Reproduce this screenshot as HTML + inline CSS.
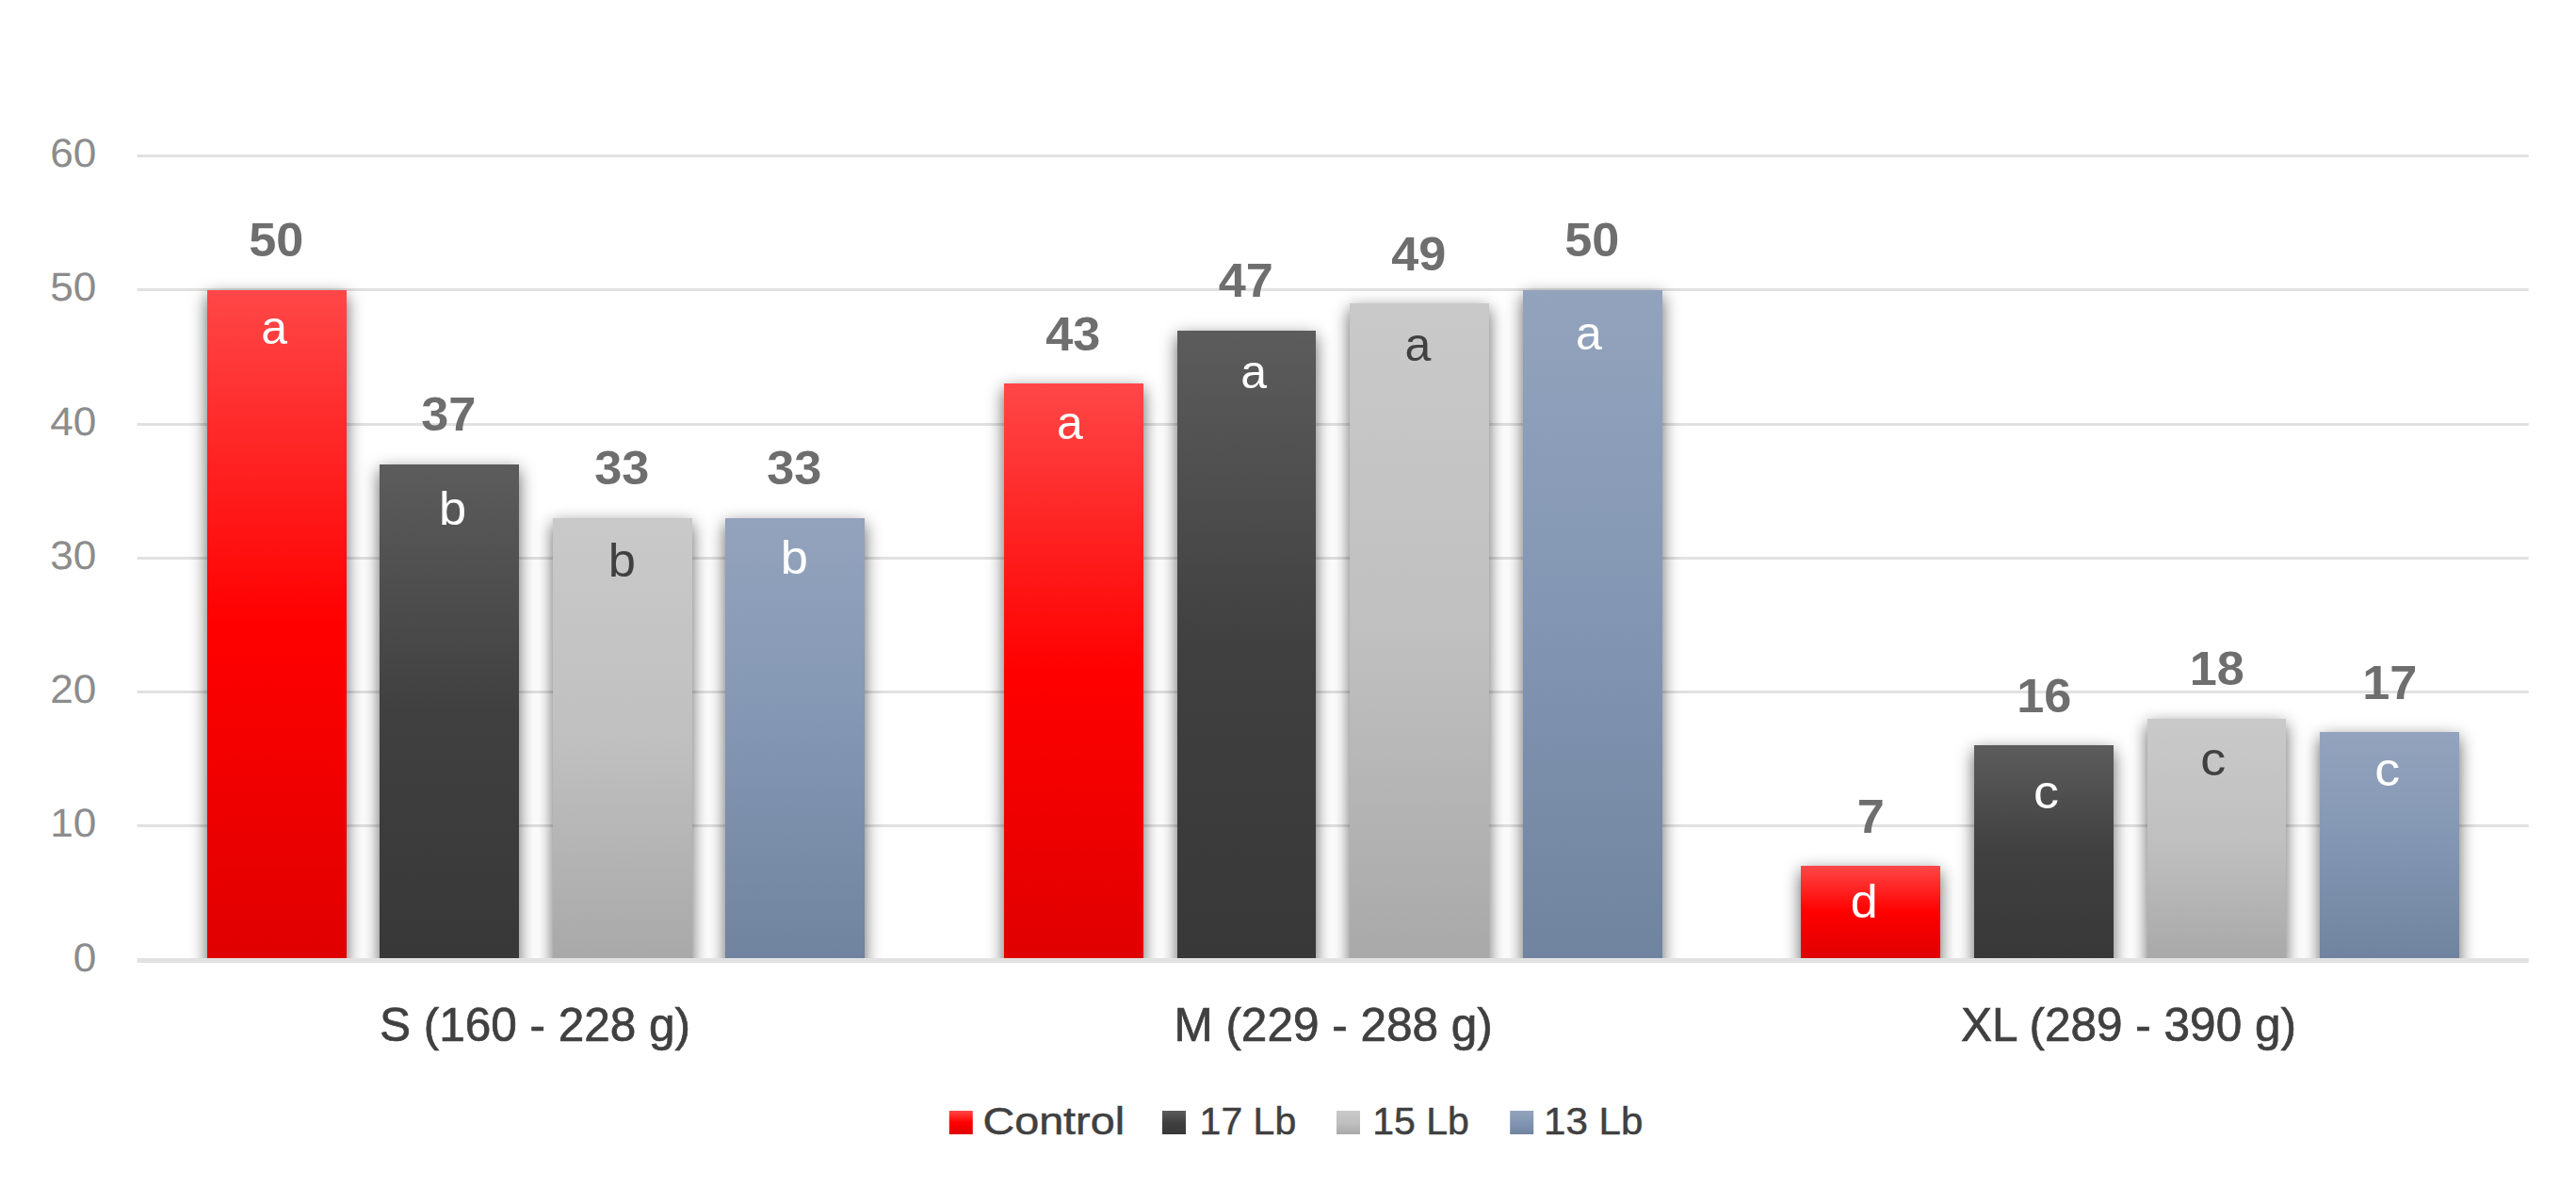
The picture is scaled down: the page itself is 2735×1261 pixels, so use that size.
<!DOCTYPE html>
<html lang="en">
<head>
<meta charset="utf-8">
<title>Chart</title>
<style>
html,body{margin:0;padding:0;background:#fff;}
body{width:2735px;height:1261px;overflow:hidden;}
svg{display:block;}
text{font-family:"Liberation Sans",Arial,sans-serif;}
.yl{font-size:42.5px;text-rendering:geometricPrecision;fill:#8c8c8c;text-anchor:end;}
.dl{font-size:50px;font-weight:bold;fill:#6e6e6e;text-anchor:middle;}
.lt{font-size:50px;}
.cl{font-size:49.5px;fill:#404040;text-anchor:middle;stroke:#404040;stroke-width:0.7px;}
.lg{font-size:41px;fill:#404040;stroke:#404040;stroke-width:0.5px;}
</style>
</head>
<body>
<svg width="2735" height="1261" viewBox="0 0 2735 1261">
<defs>
<linearGradient id="gR" x1="0" y1="0" x2="0" y2="1"><stop offset="0" stop-color="#ff4747"/><stop offset="0.5" stop-color="#ff0000"/><stop offset="1" stop-color="#e00000"/></linearGradient>
<linearGradient id="gD" x1="0" y1="0" x2="0" y2="1"><stop offset="0" stop-color="#5c5c5c"/><stop offset="0.5" stop-color="#404040"/><stop offset="1" stop-color="#383838"/></linearGradient>
<linearGradient id="gL" x1="0" y1="0" x2="0" y2="1"><stop offset="0" stop-color="#c9c9c9"/><stop offset="0.5" stop-color="#c0c0c0"/><stop offset="1" stop-color="#a9a9a9"/></linearGradient>
<linearGradient id="gB" x1="0" y1="0" x2="0" y2="1"><stop offset="0" stop-color="#93a3bd"/><stop offset="0.5" stop-color="#8296b3"/><stop offset="1" stop-color="#70839f"/></linearGradient>
<filter id="sh" x="-30%" y="-30%" width="160%" height="160%" color-interpolation-filters="sRGB"><feGaussianBlur stdDeviation="9"/></filter>
<clipPath id="cp"><rect x="0" y="0" width="2735" height="1017"/></clipPath>
</defs>
<rect width="2735" height="1261" fill="#fff"/>
<g fill="#e1e1e1">
<rect x="145.6" y="164" width="2539.1" height="3"/>
<rect x="145.6" y="306" width="2539.1" height="3"/>
<rect x="145.6" y="449" width="2539.1" height="3"/>
<rect x="145.6" y="591" width="2539.1" height="3"/>
<rect x="145.6" y="733" width="2539.1" height="3"/>
<rect x="145.6" y="875" width="2539.1" height="3"/>
</g>
<g clip-path="url(#cp)">
<g filter="url(#sh)" fill="#000" fill-opacity="0.62">
<rect x="220" y="314" width="148" height="749"/>
<rect x="403" y="499" width="148" height="564"/>
<rect x="587" y="556" width="148" height="507"/>
<rect x="770" y="556" width="148" height="507"/>
<rect x="1066" y="413" width="148" height="650"/>
<rect x="1250" y="357" width="147" height="706"/>
<rect x="1433" y="328" width="148" height="735"/>
<rect x="1617" y="314" width="148" height="749"/>
<rect x="1912" y="925" width="148" height="138"/>
<rect x="2096" y="797" width="148" height="266"/>
<rect x="2280" y="769" width="147" height="294"/>
<rect x="2463" y="783" width="148" height="280"/>
</g>
<rect x="220" y="308" width="148" height="709" fill="url(#gR)"/>
<rect x="403" y="493" width="148" height="524" fill="url(#gD)"/>
<rect x="587" y="550" width="148" height="467" fill="url(#gL)"/>
<rect x="770" y="550" width="148" height="467" fill="url(#gB)"/>
<rect x="1066" y="407" width="148" height="610" fill="url(#gR)"/>
<rect x="1250" y="351" width="147" height="666" fill="url(#gD)"/>
<rect x="1433" y="322" width="148" height="695" fill="url(#gL)"/>
<rect x="1617" y="308" width="148" height="709" fill="url(#gB)"/>
<rect x="1912" y="919" width="148" height="98" fill="url(#gR)"/>
<rect x="2096" y="791" width="148" height="226" fill="url(#gD)"/>
<rect x="2280" y="763" width="147" height="254" fill="url(#gL)"/>
<rect x="2463" y="777" width="148" height="240" fill="url(#gB)"/>
</g>
<rect x="145.6" y="1017" width="2539.1" height="5" fill="#e2e2e2"/>
<text class="yl" transform="translate(102.3 1031.4) scale(1.04 1)">0</text>
<text class="yl" transform="translate(102.3 888.4) scale(1.04 1)">10</text>
<text class="yl" transform="translate(102.3 746.4) scale(1.04 1)">20</text>
<text class="yl" transform="translate(102.3 604.4) scale(1.04 1)">30</text>
<text class="yl" transform="translate(102.3 462.4) scale(1.04 1)">40</text>
<text class="yl" transform="translate(102.3 319.4) scale(1.04 1)">50</text>
<text class="yl" transform="translate(102.3 177.4) scale(1.04 1)">60</text>
<text class="dl" transform="translate(293.2 272.4) scale(1.045 1)">50</text>
<text class="dl" transform="translate(476.2 457.2) scale(1.045 1)">37</text>
<text class="dl" transform="translate(660.2 514.1) scale(1.045 1)">33</text>
<text class="dl" transform="translate(843.2 514.1) scale(1.045 1)">33</text>
<text class="dl" transform="translate(1139.2 371.9) scale(1.045 1)">43</text>
<text class="dl" transform="translate(1322.7 315.0) scale(1.045 1)">47</text>
<text class="dl" transform="translate(1506.2 286.6) scale(1.045 1)">49</text>
<text class="dl" transform="translate(1690.2 272.4) scale(1.045 1)">50</text>
<text class="dl" transform="translate(1986.2 883.8) scale(1.045 1)">7</text>
<text class="dl" transform="translate(2170.2 755.8) scale(1.045 1)">16</text>
<text class="dl" transform="translate(2353.7 727.4) scale(1.045 1)">18</text>
<text class="dl" transform="translate(2537.2 741.6) scale(1.045 1)">17</text>
<text class="lt" transform="translate(277.2 365.2) scale(1.000 1)" fill="#fff">a</text>
<text class="lt" transform="translate(465.9 557.2) scale(1.050 1)" fill="#fff">b</text>
<text class="lt" transform="translate(645.7 611.5) scale(1.050 1)" fill="#404040">b</text>
<text class="lt" transform="translate(828.8 608.5) scale(1.050 1)" fill="#fff">b</text>
<text class="lt" transform="translate(1122.0 465.8) scale(1.000 1)" fill="#fff">a</text>
<text class="lt" transform="translate(1317.3 411.8) scale(1.000 1)" fill="#fff">a</text>
<text class="lt" transform="translate(1491.4 383.2) scale(1.000 1)" fill="#404040">a</text>
<text class="lt" transform="translate(1673.1 370.8) scale(1.000 1)" fill="#fff">a</text>
<text class="lt" transform="translate(1964.8 973.8) scale(1.040 1)" fill="#fff">d</text>
<text class="lt" transform="translate(2158.9 857.9) scale(1.080 1)" fill="#fff">c</text>
<text class="lt" transform="translate(2336.2 822.6) scale(1.080 1)" fill="#404040">c</text>
<text class="lt" transform="translate(2521.2 833.7) scale(1.080 1)" fill="#fff">c</text>
<text class="cl" x="568.0" y="1105.2">S (160 - 228 g)</text>
<text class="cl" x="1415.6" y="1105.2">M (229 - 288 g)</text>
<text class="cl" x="2260.0" y="1105.2">XL (289 - 390 g)</text>
<rect x="1007.8" y="1179" width="25" height="25" fill="url(#gR)"/>
<text class="lg" transform="translate(1043.4 1203.8) scale(1.140 1)">Control</text>
<rect x="1234.0" y="1179" width="25" height="25" fill="url(#gD)"/>
<text class="lg" transform="translate(1273.6 1203.8) scale(1.000 1)">17 Lb</text>
<rect x="1419.0" y="1179" width="25" height="25" fill="url(#gL)"/>
<text class="lg" transform="translate(1457.3 1203.8) scale(1.000 1)">15 Lb</text>
<rect x="1603.2" y="1179" width="25" height="25" fill="url(#gB)"/>
<text class="lg" transform="translate(1639.0 1203.8) scale(1.027 1)">13 Lb</text>
</svg>
</body>
</html>
